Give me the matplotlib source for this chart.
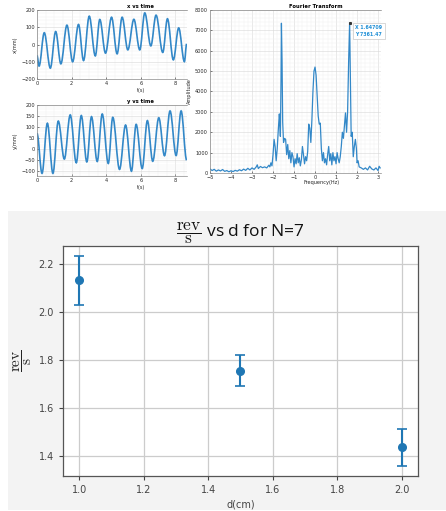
import matplotlib
matplotlib.use("Agg")
import matplotlib.pyplot as plt
from matplotlib.path import Path
from matplotlib.patches import PathPatch, Rectangle

plt.rcParams['mathtext.fontset'] = 'cm'

# ---------------- data ----------------
# x vs time: extrema (t in s, x in mm)
x_t = [0.00, 0.12, 0.42, 0.77, 1.08, 1.38, 1.73, 2.06, 2.40, 2.69, 3.02, 3.37, 3.63, 3.96,
       4.31, 4.63, 4.92, 5.25, 5.60, 5.94, 6.23, 6.58, 6.88, 7.27, 7.54, 7.88, 8.19, 8.52, 8.65]
x_v = [-64, -125, 68, -137, 75, -112, 112, -100, 116, -93, 164, -66, 145, -50,
       158, -54, 158, -31, 146, -31, 183, -8, 170, -46, 149, -89, 96, -99, 4]

# y vs time: extrema (t in s, y in mm)
y_t = [0.00, 0.29, 0.60, 0.92, 1.23, 1.58, 1.92, 2.27, 2.56, 2.88, 3.15, 3.48, 3.77, 4.12,
       4.38, 4.77, 5.12, 5.46, 5.73, 6.08, 6.38, 6.69, 7.04, 7.37, 7.69, 8.04, 8.33, 8.65]
y_v = [71, -110, 117, -110, 127, -45, 155, -62, 152, -58, 147, -56, 159, -65,
       144, -92, 109, -100, 112, -88, 129, -55, 142, -30, 173, -29, 173, -50]

# Fourier transform amplitude
ft_f = [-5.0, -4.9, -4.8, -4.7, -4.6, -4.5, -4.4, -4.3, -4.2, -4.1, -4.0, -3.9, -3.8, -3.7,
        -3.6, -3.5, -3.4, -3.3, -3.2, -3.1, -3.0, -2.9, -2.8, -2.75, -2.7, -2.6, -2.5, -2.4,
        -2.3, -2.2, -2.15, -2.1, -2.05, -2.0, -1.95, -1.9, -1.85, -1.8, -1.75, -1.7, -1.68,
        -1.65, -1.62, -1.6, -1.57, -1.54, -1.5, -1.45, -1.4, -1.35, -1.3, -1.25, -1.2, -1.15,
        -1.1, -1.05, -1.0, -0.95, -0.9, -0.85, -0.8, -0.75, -0.7, -0.65, -0.6, -0.55, -0.5,
        -0.45, -0.4, -0.35, -0.3, -0.25, -0.2, -0.15, -0.1, -0.05, 0.0, 0.05, 0.1, 0.15, 0.2,
        0.25, 0.3, 0.35, 0.4, 0.45, 0.5, 0.55, 0.6, 0.65, 0.7, 0.75, 0.8, 0.85, 0.9, 0.95,
        1.0, 1.05, 1.1, 1.15, 1.2, 1.25, 1.3, 1.35, 1.4, 1.45, 1.5, 1.55, 1.6, 1.647, 1.68,
        1.72, 1.77, 1.82, 1.87, 1.92, 1.97, 2.0, 2.05, 2.1, 2.2, 2.3, 2.4, 2.5, 2.6, 2.7,
        2.8, 2.9, 3.0, 3.05, 3.1]
ft_a = [200, 120, 180, 90, 150, 100, 170, 80, 120, 60, 110, 70, 130, 90,
        160, 110, 190, 130, 230, 150, 250, 180, 300, 400, 220, 320, 260, 300,
        250, 380, 300, 500, 350, 900, 1650, 1300, 600, 1200, 2100, 2900, 2600,
        1800, 4500, 7350, 5500, 2500, 1500, 1700, 1650, 900, 1400, 700, 1100, 500,
        1000, 800, 300, 700, 450, 950, 500, 750, 350, 650, 1300, 900, 450,
        800, 600, 1050, 2400, 2200, 1500, 2600, 4000, 5000, 5200, 4800, 3800, 2800, 2400,
        2450, 1200, 600, 1000, 500, 700, 400, 900, 1300, 600, 950, 400, 1000, 600, 800,
        450, 1000, 700, 500, 800, 1300, 2000, 1700, 2300, 2950, 2000, 3000, 5500, 7361, 5000,
        1800, 2000, 800, 1300, 1650, 1200, 500, 600, 300, 250, 180, 250, 150, 330, 200,
        150, 250, 120, 330, 250]
tip_x, tip_y = 1.64709, 7361.47

# bottom chart
d_cm = [1.0, 1.5, 2.0]
rev_s = [2.13, 1.755, 1.437]
rev_err = [0.10, 0.065, 0.077]

# ---------------- figure ----------------
W, H = 446, 511
fig = plt.figure(figsize=(W / 100, H / 100), dpi=100)
fig.patch.set_facecolor('white')

def fr(l, t, r, b):
    return [l / W, 1 - b / H, (r - l) / W, (b - t) / H]

MBLUE = '#3388c8'
MTXT = '#262626'

def matlab_style(ax):
    ax.set_facecolor('white')
    for s in ['left', 'bottom', 'top']:
        ax.spines[s].set_color('#8a8a8a')
        ax.spines[s].set_linewidth(0.5)
    ax.spines['right'].set_visible(False)
    ax.tick_params(direction='in', length=1.5, width=0.4, labelsize=3.6,
                   colors=MTXT, pad=1.5, which='major')
    ax.tick_params(which='minor', length=0)
    ax.minorticks_on()
    ax.grid(which='major', color='#d8d8d8', linewidth=0.4)
    ax.grid(which='minor', color='#eeeeee', linewidth=0.3)
    ax.set_axisbelow(True)

def smooth(ax, t, v):
    verts = [(t[0], v[0])]
    codes = [Path.MOVETO]
    for i in range(len(t) - 1):
        dt = t[i + 1] - t[i]
        verts += [(t[i] + 0.36 * dt, v[i]), (t[i + 1] - 0.36 * dt, v[i + 1]), (t[i + 1], v[i + 1])]
        codes += [Path.CURVE4] * 3
    ax.add_patch(PathPatch(Path(verts, codes), facecolor='none', edgecolor=MBLUE, lw=1.2))

# x vs time
ax1 = fig.add_axes(fr(37, 10, 187, 79))
matlab_style(ax1)
smooth(ax1, x_t, x_v)
ax1.set_xlim(0, 8.67)
ax1.set_ylim(-200, 200)
ax1.set_xticks([0, 2, 4, 6, 8])
ax1.set_yticks([-200, -100, 0, 100, 200])
ax1.set_title('x vs time', fontsize=3.8, fontweight='bold', x=0.69, pad=1.5, color='black')
ax1.set_xlabel('t(s)', fontsize=3.6, labelpad=1, color=MTXT)
ax1.xaxis.set_label_coords(0.69, -0.13)
ax1.set_ylabel('x(mm)', fontsize=3.6, labelpad=2, color=MTXT)

# y vs time
ax2 = fig.add_axes(fr(37, 105, 187, 176))
matlab_style(ax2)
smooth(ax2, y_t, y_v)
ax2.set_xlim(0, 8.67)
ax2.set_ylim(-122, 200)
ax2.set_xticks([0, 2, 4, 6, 8])
ax2.set_yticks([-100, -50, 0, 50, 100, 150, 200])
ax2.set_title('y vs time', fontsize=3.8, fontweight='bold', x=0.69, pad=1.5, color='black')
ax2.set_xlabel('t(s)', fontsize=3.6, labelpad=1, color=MTXT)
ax2.xaxis.set_label_coords(0.69, -0.13)
ax2.set_ylabel('y(mm)', fontsize=3.6, labelpad=2, color=MTXT)

# Fourier transform
ax3 = fig.add_axes(fr(210, 10, 381, 173))
matlab_style(ax3)
ax3.plot(ft_f, ft_a, color=MBLUE, lw=0.9)
ax3.set_xlim(-5, 3.14)
ax3.set_ylim(0, 8000)
ax3.set_xticks(range(-5, 4))
ax3.set_yticks(range(0, 8001, 1000))
ax3.set_title('Fourier Transform', fontsize=3.8, fontweight='bold', x=0.62, pad=1.5, color='black')
ax3.set_xlabel('Frequency(Hz)', fontsize=3.6, labelpad=1, color=MTXT)
ax3.xaxis.set_label_coords(0.65, -0.045)
ax3.set_ylabel('Amplitude', fontsize=3.6, labelpad=2, color=MTXT)
ax3.plot([tip_x], [tip_y], marker='s', ms=1.2, color='#333333')
ax3.annotate('X %.5f\nY %.2f' % (tip_x, tip_y), xy=(tip_x, tip_y), xytext=(4, -9),
             textcoords='offset points', fontsize=3.4, color='#1f8fd6', fontweight='bold',
             linespacing=1.3,
             bbox=dict(boxstyle='square,pad=0.5', fc='white', ec='#bbbbbb', lw=0.4))

# grey document background for bottom chart
fig.patches.append(Rectangle((8 / W, 1 / H), (W - 8) / W, 299 / H, transform=fig.transFigure,
                             facecolor='#f3f3f3', edgecolor='none', zorder=-5))

# bottom errorbar chart
ax4 = fig.add_axes(fr(63, 246, 418, 476))
ax4.set_facecolor('white')
ax4.errorbar(d_cm, rev_s, yerr=rev_err, fmt='o', color='#1f77b4', ms=5.5, capsize=3.5,
             elinewidth=1.5, capthick=1.2)
ax4.grid(True, color='#cccccc', linewidth=0.9)
ax4.set_axisbelow(True)
for s in ax4.spines.values():
    s.set_color('#555555')
    s.set_linewidth(0.9)
ax4.tick_params(labelsize=7, colors='#444444', length=3)
ax4.set_xticks([1.0, 1.2, 1.4, 1.6, 1.8, 2.0])
ax4.set_yticks([1.4, 1.6, 1.8, 2.0, 2.2])
ax4.set_xlabel('d(cm)', fontsize=7, color='#444444', labelpad=3)
ax4.set_ylabel(r'$\dfrac{\mathrm{rev}}{\mathrm{s}}$', fontsize=11, color='#222222', labelpad=3)
ax4.set_title(r'$\dfrac{\mathrm{rev}}{\mathrm{s}}$ vs d for N=7', fontsize=12.5,
              family='Open Sans', color='#111111', pad=6)

fig.savefig('out.png', dpi=100)
